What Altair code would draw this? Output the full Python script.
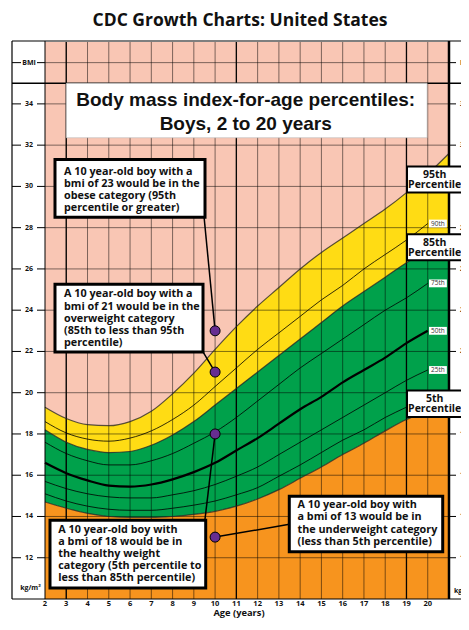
import altair as alt
import pandas as pd

# ---------------- data ----------------
ages = list(range(2, 21))
p5  = [14.7, 14.4, 14.15, 14.0, 13.95, 13.95, 14.0, 14.1, 14.25, 14.5, 14.85, 15.3, 15.85, 16.4, 17.0, 17.55, 18.15, 18.7, 19.1]
p10 = [15.1, 14.75, 14.5, 14.35, 14.3, 14.3, 14.4, 14.55, 14.75, 15.05, 15.4, 15.95, 16.5, 17.1, 17.7, 18.2, 18.8, 19.3, 19.8]
p25 = [15.7, 15.35, 15.1, 14.95, 14.9, 14.9, 15.05, 15.25, 15.55, 15.95, 16.4, 17.0, 17.6, 18.2, 18.8, 19.4, 20.0, 20.6, 21.1]
p50 = [16.6, 16.1, 15.75, 15.5, 15.45, 15.55, 15.8, 16.15, 16.6, 17.2, 17.8, 18.5, 19.2, 19.8, 20.5, 21.1, 21.7, 22.4, 23.0]
p75 = [17.6, 17.05, 16.7, 16.5, 16.5, 16.7, 17.05, 17.55, 18.1, 18.8, 19.6, 20.4, 21.2, 21.9, 22.6, 23.3, 24.0, 24.6, 25.3]
p85 = [18.2, 17.6, 17.25, 17.1, 17.15, 17.45, 17.95, 18.6, 19.4, 20.2, 21.0, 21.8, 22.6, 23.4, 24.2, 24.9, 25.6, 26.3, 26.9]
p90 = [18.6, 18.05, 17.75, 17.65, 17.8, 18.15, 18.7, 19.4, 20.3, 21.2, 22.1, 22.9, 23.7, 24.5, 25.2, 26.0, 26.7, 27.4, 28.2]
p95 = [19.3, 18.75, 18.45, 18.4, 18.6, 19.1, 19.95, 20.95, 22.1, 23.2, 24.2, 25.1, 26.0, 26.8, 27.5, 28.2, 28.9, 29.7, 30.6]

# colour bands continue to the right edge of the grid
edge_age = 21
p5_edge, p85_edge, p95_edge = 19.5, 27.6, 31.6

y_ticks = [12, 14, 16, 18, 20, 22, 24, 26, 28, 30, 32, 34]
bmi_row = 36
x_ticks = list(range(2, 21))
grid_bmi = list(range(12, 37, 2))
grid_age = list(range(3, 21))
heavy_age = [3, 11, 19]

dot_age = 10
dot_bmi = [23, 21, 18, 13]

line_labels = ["90th", "75th", "50th", "25th"]
line_ends = [p90[-1], p75[-1], p50[-1], p25[-1]]

# ---------------- styles ----------------
PINK = "#F9C6B4"
YELLOW = "#FFDC14"
GREEN = "#00A14B"
ORANGE = "#F7941E"
PURPLE = "#662D91"
FONT = "Open Sans"
W, H = 404, 557

xs = alt.Scale(domain=[2, 21], nice=False, zero=False)
ys = alt.Scale(domain=[10, 37], nice=False, zero=False)


def X(f):
    return alt.X(f, type="quantitative", scale=xs, axis=None)


def Y(f):
    return alt.Y(f, type="quantitative", scale=ys, axis=None)


def dx(v):
    return alt.XDatum(v, scale=xs, axis=None)


def dy(v):
    return alt.YDatum(v, scale=ys, axis=None)


one = pd.DataFrame({"k": [0]})
layers = []

# ---- colour bands ----
bands = pd.DataFrame({
    "age": ages + [edge_age],
    "p5": p5 + [p5_edge],
    "p85": p85 + [p85_edge],
    "p95": p95 + [p95_edge],
})
bb = alt.Chart(bands)
layers.append(bb.mark_area(color=YELLOW, interpolate="monotone").encode(x=X("age"), y=Y("p95"), y2="p85"))
layers.append(bb.mark_area(color=GREEN, interpolate="monotone").encode(x=X("age"), y=Y("p85"), y2="p5"))
layers.append(bb.mark_area(color=ORANGE, interpolate="monotone").encode(x=X("age"), y=Y("p5"), y2=alt.Y2Datum(10)))

# ---- grid ----
layers.append(alt.Chart(pd.DataFrame({"age": grid_age})).mark_rule(color="#000", strokeWidth=1, opacity=0.5)
              .encode(x=X("age"), y=alt.value(0), y2=alt.value(H)))
layers.append(alt.Chart(pd.DataFrame({"age": heavy_age})).mark_rule(color="#000", strokeWidth=1.3, opacity=0.95)
              .encode(x=X("age"), y=alt.value(0), y2=alt.value(H)))
layers.append(alt.Chart(pd.DataFrame({"bmi": grid_bmi})).mark_rule(color="#000", strokeWidth=1, opacity=0.5)
              .encode(y=Y("bmi"), x=alt.value(0), x2=alt.value(W)))

# ---- percentile curves ----
rows = []
for name, vals in [("p10", p10), ("p25", p25), ("p75", p75), ("p90", p90)]:
    for a, v in zip(ages, vals):
        rows.append({"pct": name, "age": a, "bmi": v})
thin = pd.DataFrame(rows)
layers.append(alt.Chart(thin).mark_line(color="#000", strokeWidth=0.8, interpolate="monotone")
              .encode(x=X("age"), y=Y("bmi"), detail="pct:N"))
layers.append(alt.Chart(pd.DataFrame({"age": ages, "bmi": p50})).mark_line(color="#000", strokeWidth=2.2, interpolate="monotone")
              .encode(x=X("age"), y=Y("bmi")))
layers.append(bb.transform_fold(["p5", "p85", "p95"], as_=["pct", "bmi"])
              .mark_line(color="#222", strokeWidth=1.2, opacity=0.75, interpolate="monotone")
              .encode(x=X("age"), y=Y("bmi:Q"), detail="pct:N"))

# ---- frame ----
frame = alt.Chart(one)
layers.append(frame.mark_rule(color="#000", strokeWidth=1.2).encode(x=alt.value(-33), x2=alt.value(424), y=alt.value(-1)))
layers.append(frame.mark_rule(color="#000", strokeWidth=1.5).encode(x=alt.value(-33), x2=alt.value(424), y=dy(35)))
layers.append(frame.mark_rule(color="#000", strokeWidth=1.2).encode(x=alt.value(-33), x2=alt.value(424), y=alt.value(H)))
layers.append(frame.mark_rule(color="#000", strokeWidth=1.2).encode(x=alt.value(-33), y=alt.value(-1), y2=alt.value(H)))
layers.append(frame.mark_rule(color="#000", strokeWidth=1).encode(x=alt.value(0), y=alt.value(-1), y2=alt.value(H)))
layers.append(frame.mark_rule(color="#000", strokeWidth=2.5).encode(x=alt.value(W), y=alt.value(-1), y2=alt.value(H)))

# ---- side columns (BMI axis) ----
side = pd.DataFrame({"bmi": y_ticks + [bmi_row], "lab": [str(v) for v in y_ticks] + ["BMI"]})
sc = alt.Chart(side)
for a, b in [(-33, -24), (-8, 0), (W, W + 7)]:
    layers.append(sc.mark_rule(color="#000", strokeWidth=1).encode(y=Y("bmi"), x=alt.value(a), x2=alt.value(b)))
layers.append(sc.mark_text(font=FONT, fontWeight="bold", fontSize=7, align="center", baseline="middle", color="#111")
              .encode(y=Y("bmi"), x=alt.value(-16), text="lab:N"))
layers.append(sc.mark_text(font=FONT, fontWeight="bold", fontSize=7, align="left", baseline="middle", color="#111")
              .encode(y=Y("bmi"), x=alt.value(W + 11), text="lab:N"))
layers.append(frame.mark_text(text="kg/m²", font=FONT, fontWeight="bold", fontSize=7, align="center", baseline="middle", color="#111")
              .encode(x=alt.value(-14.5), y=dy(10.53)))
layers.append(frame.mark_text(text="kg/m²", font=FONT, fontWeight="bold", fontSize=7, align="left", baseline="middle", color="#111")
              .encode(x=alt.value(W + 5), y=dy(10.4)))

# ---- x axis labels ----
layers.append(alt.Chart(pd.DataFrame({"age": x_ticks})).mark_text(font=FONT, fontWeight="bold", fontSize=7.5, baseline="middle", color="#111")
              .encode(x=X("age"), y=alt.value(H + 4.5), text="age:N"))
layers.append(frame.mark_text(text="Age (years)", font=FONT, fontWeight="bold", fontSize=9.3, align="center", baseline="alphabetic", color="#111")
              .encode(x=alt.value(194), y=alt.value(H + 17.3)))

# ---- titles ----
layers.append(frame.mark_text(text="CDC Growth Charts: United States", font=FONT, fontWeight="bold", fontSize=17.5,
                              align="center", baseline="alphabetic", color="#111")
              .encode(x=alt.value(195), y=alt.value(-16)))
layers.append(frame.mark_rect(fill="white", stroke="#bbb", strokeWidth=0.6)
              .encode(x=dx(3.0), x2=alt.X2Datum(19.97), y=dy(32.36), y2=alt.Y2Datum(35.0)))
layers.append(frame.mark_text(text=["Body mass index-for-age percentiles:", "Boys, 2 to 20 years"], font="Liberation Sans",
                              fontWeight="bold", fontSize=19, lineHeight=24.3, align="center", baseline="alphabetic", color="#111")
              .encode(x=dx(11.44), y=dy(33.92)))

# ---- connectors ----
for (a1, b1, a2, b2) in [(9.478, 28.547, 10, 23), (9.431, 21.979, 10, 21), (9.525, 13.87, 10, 18), (10, 13, 13.489, 13.62)]:
    layers.append(frame.mark_rule(color="#000", strokeWidth=1.5)
                  .encode(x=dx(a1), y=dy(b1), x2=alt.X2Datum(a2), y2=alt.Y2Datum(b2)))

# ---- annotation boxes ----
notes = [
    ((2.470, 9.525, 28.499, 31.300), (2.894, 30.576),
     ["A 10 year-old boy with a", "bmi of 23 would be in the", "obese category (95th", "percentile or greater)"]),
    ((2.470, 9.431, 21.979, 25.263), (2.894, 24.621),
     ["A 10 year-old boy with a", "bmi of 21 would be in the", "overweight category", "(85th  to less than 95th", "percentile)"]),
    ((2.235, 9.558, 10.532, 13.817), (2.625, 13.222),
     ["A 10 year-old boy with", "a bmi of 18 would be in", "the  healthy weight", "category (5th percentile to", "less than 85th percentile)"]),
    ((13.489, 20.704, 12.295, 14.975), (13.875, 14.405),
     ["A 10 year-old boy with", "a bmi of 13 would be in", "the underweight category", "(less than 5th percentile)"]),
]
for (x1, x2, y1, y2), (tx, ty), lines in notes:
    layers.append(frame.mark_rect(fill="white", stroke="#000", strokeWidth=3)
                  .encode(x=dx(x1), x2=alt.X2Datum(x2), y=dy(y1), y2=alt.Y2Datum(y2)))
    layers.append(frame.mark_text(text=lines, font=FONT, fontWeight="bold", fontSize=10.8, lineHeight=12.2,
                                  align="left", baseline="alphabetic", color="#111")
                  .encode(x=dx(tx), y=dy(ty)))

# ---- dots ----
layers.append(alt.Chart(pd.DataFrame({"age": [dot_age] * len(dot_bmi), "bmi": dot_bmi}))
              .mark_circle(size=100, color=PURPLE, opacity=1, stroke="#000", strokeWidth=1)
              .encode(x=X("age"), y=Y("bmi")))

# ---- percentile tags on the right ----
tags = [(("95th", "Percentile"), 29.707, 30.963, 30.431),
        (("85th", "Percentile"), 26.422, 27.678, 27.123),
        (("5th", "Percentile"), 18.825, 20.110, 19.564)]
for lines, y1, y2, ty in tags:
    layers.append(frame.mark_rect(fill="white", stroke="#000", strokeWidth=2)
                  .encode(x=dx(19.025), x2=alt.X2Datum(21.625), y=dy(y1), y2=alt.Y2Datum(y2)))
    layers.append(frame.mark_text(text=list(lines), font=FONT, fontWeight="bold", fontSize=10.5, lineHeight=10.6,
                                  align="center", baseline="alphabetic", color="#111")
                  .encode(x=dx(20.326), y=dy(ty)))

# ---- small line-end labels ----
ends = alt.Chart(pd.DataFrame({"lab": line_labels, "bmi": line_ends}))
layers.append(ends.transform_calculate(lo="datum.bmi - 0.19", hi="datum.bmi + 0.19")
              .mark_rect(fill="white")
              .encode(x=dx(20.06), x2=alt.X2Datum(20.9), y=Y("lo:Q"), y2="hi:Q"))
layers.append(ends.mark_text(font=FONT, fontSize=6.5, align="center", baseline="middle", color="#333")
              .encode(x=dx(20.48), y=Y("bmi"), text="lab:N"))

chart = (
    alt.layer(*layers)
    .properties(width=W, height=H, autosize=alt.AutoSizeParams(type="none"),
                padding={"left": 37, "top": 34, "right": 12, "bottom": 19})
    .configure_view(fill=PINK, stroke=None)
)

chart.save("out.html", embed_options={"renderer": "svg", "actions": False})
